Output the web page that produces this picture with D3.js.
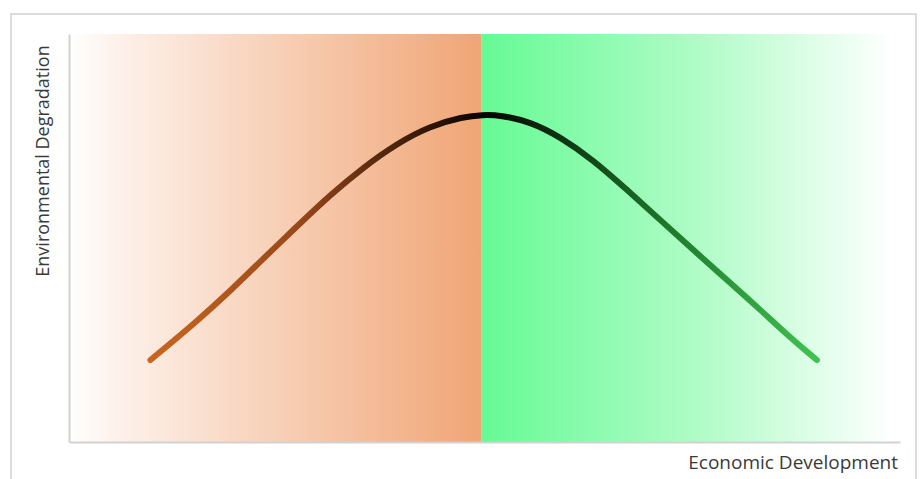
<!DOCTYPE html>
<html>
<head>
<meta charset="utf-8">
<script src="https://cdn.jsdelivr.net/npm/d3@7"></script>
<style>
  html, body { margin: 0; padding: 0; background: #fff; }
  svg { display: block; }
  .axis-title { font-family: "Open Sans", sans-serif; fill: #3a3a3a; }
</style>
</head>
<body>
<div id="chart"></div>
<script>
// curve (economic development vs. degradation, 0-100)
const development = [9.8, 15.4, 19.4, 23.3, 27.4, 31.4, 35.4, 39.5, 43.4, 47.4, 49.8, 51.9, 55.5, 59.1, 63.1, 67.1, 71.1, 75.1, 79.2, 83.2, 87.1, 90.0];
const degradation = [20.1, 29.6, 37.0, 44.8, 52.8, 60.5, 67.3, 73.2, 77.4, 79.7, 80.2, 80.1, 78.5, 74.8, 69.1, 61.9, 54.5, 47.1, 39.7, 32.4, 25.0, 20.1];
const turningPoint = 49.6;        // where the background flips from orange to green
const greenFadeEnd = 99.2;        // green stage fades to white here
const axisTitles = ["Economic Development", "Environmental Degradation"];

const width = 920, height = 479;
const margin = {top: 34, right: 20, bottom: 37, left: 69};

const svg = d3.select("#chart").append("svg")
    .attr("width", width)
    .attr("height", height);

const x = d3.scaleLinear().domain([0, 100]).range([margin.left, width - margin.right]);
const y = d3.scaleLinear().domain([0, 100]).range([height - margin.bottom, margin.top]);

// outer frame
svg.append("rect")
    .attr("x", 11).attr("y", 14)
    .attr("width", 905).attr("height", 480)
    .attr("fill", "none")
    .attr("stroke", "#dcdcdc")
    .attr("stroke-width", 2);

const defs = svg.append("defs");

function hGradient(id, x1, x2, stops) {
    const g = defs.append("linearGradient")
        .attr("id", id)
        .attr("gradientUnits", "userSpaceOnUse")
        .attr("x1", x1).attr("x2", x2).attr("y1", 0).attr("y2", 0);
    g.selectAll("stop").data(stops).enter().append("stop")
        .attr("offset", d => d[0])
        .attr("stop-color", d => d[1]);
}

hGradient("bgGrowth", x(0), x(turningPoint), [[0, "#ffffff"], [0.12, "#fdf1ea"], [1, "#f0a575"]]);
hGradient("bgClean", x(turningPoint), x(greenFadeEnd), [[0, "#66fa94"], [0.55, "#b3fcc9"], [1, "#ffffff"]]);
hGradient("curveGrad", x(development[0]), x(development[development.length - 1]),
    [[0, "#c9661f"], [0.22, "#99481a"], [0.5, "#050200"], [0.78, "#1d7a2b"], [1, "#40c252"]]);

svg.append("rect")
    .attr("x", x(0)).attr("y", y(100))
    .attr("width", x(turningPoint) - x(0))
    .attr("height", y(0) - y(100))
    .attr("fill", "url(#bgGrowth)");

svg.append("rect")
    .attr("x", x(turningPoint)).attr("y", y(100))
    .attr("width", x(greenFadeEnd) - x(turningPoint))
    .attr("height", y(0) - y(100))
    .attr("fill", "url(#bgClean)");

// axes: plain lines, no ticks
svg.append("g")
    .attr("transform", `translate(0,${y(0)})`)
    .call(d3.axisBottom(x).ticks(0).tickSizeOuter(0));
svg.append("g")
    .attr("transform", `translate(${x(0)},0)`)
    .call(d3.axisLeft(y).ticks(0).tickSizeOuter(0));
svg.selectAll(".domain").attr("stroke", "#d2d2d2").attr("stroke-width", 2);

// the curve
const points = development.map((d, i) => [d, degradation[i]]);
const line = d3.line()
    .x(d => x(d[0]))
    .y(d => y(d[1]))
    .curve(d3.curveBasis);

svg.append("path")
    .datum(points)
    .attr("d", line)
    .attr("fill", "none")
    .attr("stroke", "url(#curveGrad)")
    .attr("stroke-width", 6)
    .attr("stroke-linecap", "round");

// titles
svg.append("text")
    .attr("class", "axis-title")
    .attr("x", 898).attr("y", 469)
    .attr("font-size", "19px")
    .attr("text-anchor", "end")
    .text(axisTitles[0]);

svg.append("text")
    .attr("class", "axis-title")
    .attr("font-size", "18px")
    .attr("transform", "translate(49,161) rotate(-90)")
    .attr("text-anchor", "middle")
    .text(axisTitles[1]);
</script>
</body>
</html>
